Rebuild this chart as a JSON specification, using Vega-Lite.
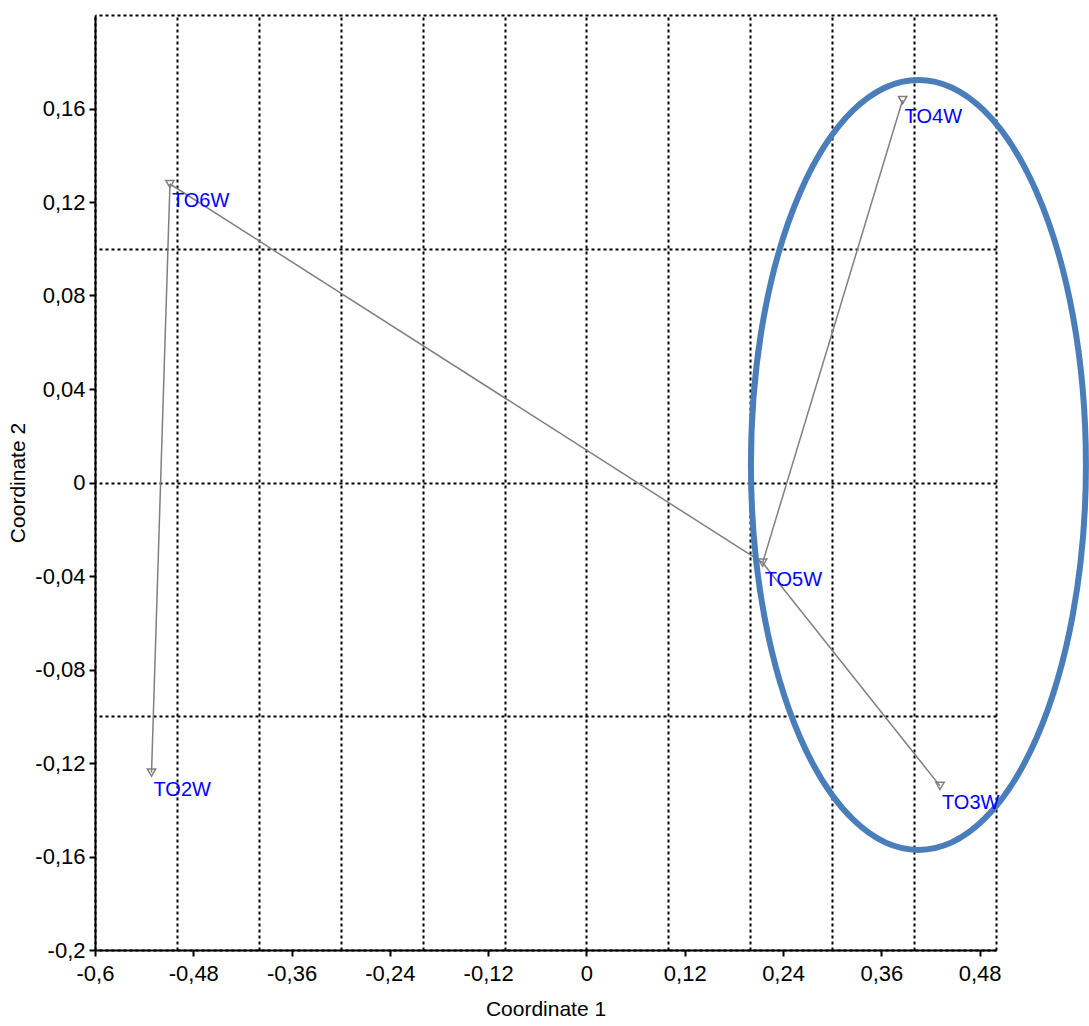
{
  "$schema": "https://vega.github.io/schema/vega-lite/v6.json",
  "autosize": {"type": "none"},
  "width": 901,
  "height": 935,
  "padding": {"left": 95, "top": 15, "right": 93, "bottom": 76},
  "background": "white",
  "config": {
    "view": {"stroke": null},
    "font": "Liberation Sans",
    "axis": {"labelFont": "Liberation Sans", "titleFont": "Liberation Sans"}
  },
  "datasets": {
    "points": [
      {"label": "TO2W", "c1": -0.531, "c2": -0.1241},
      {"label": "TO3W", "c1": 0.4316, "c2": -0.1298},
      {"label": "TO4W", "c1": 0.386, "c2": 0.1636},
      {"label": "TO5W", "c1": 0.2151, "c2": -0.0343},
      {"label": "TO6W", "c1": -0.5085, "c2": 0.1277}
    ],
    "edges": [
      {"from": "TO2W", "to": "TO6W", "x1": -0.531, "y1": -0.1241, "x2": -0.5085, "y2": 0.1277},
      {"from": "TO6W", "to": "TO5W", "x1": -0.5085, "y1": 0.1277, "x2": 0.2151, "y2": -0.0343},
      {"from": "TO5W", "to": "TO4W", "x1": 0.2151, "y1": -0.0343, "x2": 0.386, "y2": 0.1636},
      {"from": "TO5W", "to": "TO3W", "x1": 0.2151, "y1": -0.0343, "x2": 0.4316, "y2": -0.1298}
    ],
    "ellipse": [
      {"name": "group", "cx": 0.4053, "cy": 0.0075}
    ]
  },
  "resolve": {"axis": {"x": "independent", "y": "independent"}},
  "layer": [
    {
      "data": {"name": "edges"},
      "mark": {"type": "rule", "color": "#808080", "strokeWidth": 1.5},
      "encoding": {
        "x": {"field": "x1", "type": "quantitative",
          "scale": {"domain": [-0.6, 0.5], "nice": false, "zero": false},
          "axis": {"orient": "top", "values": [-0.6, -0.5, -0.4, -0.3, -0.2, -0.1, 0, 0.1, 0.2, 0.3, 0.4, 0.5],
            "grid": true, "gridColor": "black", "gridDash": [3, 3], "gridWidth": 2, "gridOpacity": 1,
            "domain": false, "ticks": false, "labels": false, "title": null}},
        "y": {"field": "y1", "type": "quantitative",
          "scale": {"domain": [-0.2, 0.2], "nice": false, "zero": false},
          "axis": {"orient": "right", "values": [-0.2, -0.1, 0, 0.1, 0.2],
            "grid": true, "gridColor": "black", "gridDash": [3, 3], "gridWidth": 2, "gridOpacity": 1,
            "domain": false, "ticks": false, "labels": false, "title": null}},
        "x2": {"field": "x2"},
        "y2": {"field": "y2"}
      }
    },
    {
      "data": {"name": "ellipse"},
      "mark": {"type": "point", "shape": "M1,0C1,1.2695,0.5523,2.2985,0,2.2985C-0.5523,2.2985,-1,1.2695,-1,0C-1,-1.2695,-0.5523,-2.2985,0,-2.2985C0.5523,-2.2985,1,-1.2695,1,0Z",
        "size": 112225, "filled": false, "stroke": "#4a7ebb", "strokeWidth": 6, "opacity": 1},
      "encoding": {
        "x": {"field": "cx", "type": "quantitative",
          "scale": {"domain": [-0.6, 0.5], "nice": false, "zero": false},
          "axis": {"orient": "bottom", "values": [-0.6, -0.48, -0.36, -0.24, -0.12, 0, 0.12, 0.24, 0.36, 0.48],
            "labelExpr": "replace(replace(format(datum.value, '.2~f'), '.', ','), '\u2212', '-')",
            "grid": false, "domainColor": "black", "domainWidth": 2, "tickColor": "black", "tickWidth": 2, "tickSize": 6,
            "labelColor": "black", "labelFontSize": 22, "labelPadding": 7, "labelFlush": false,
            "title": "Coordinate 1", "titleColor": "black", "titleFontSize": 21, "titleFontWeight": "normal", "titlePadding": 14}},
        "y": {"field": "cy", "type": "quantitative",
          "scale": {"domain": [-0.2, 0.2], "nice": false, "zero": false},
          "axis": {"orient": "left", "values": [-0.2, -0.16, -0.12, -0.08, -0.04, 0, 0.04, 0.08, 0.12, 0.16],
            "labelExpr": "replace(replace(format(datum.value, '.2~f'), '.', ','), '\u2212', '-')",
            "grid": false, "domainColor": "black", "domainWidth": 2, "tickColor": "black", "tickWidth": 2, "tickSize": 6,
            "labelColor": "black", "labelFontSize": 22, "labelPadding": 4, "labelFlush": false,
            "title": "Coordinate 2", "titleColor": "black", "titleFontSize": 21, "titleFontWeight": "normal", "titlePadding": 6}}
      }
    },
    {
      "data": {"name": "points"},
      "mark": {"type": "point", "shape": "triangle-down", "size": 70, "filled": false, "stroke": "#808080", "strokeWidth": 1.5, "opacity": 1},
      "encoding": {
        "x": {"field": "c1", "type": "quantitative", "scale": {"domain": [-0.6, 0.5], "nice": false, "zero": false}, "axis": null},
        "y": {"field": "c2", "type": "quantitative", "scale": {"domain": [-0.2, 0.2], "nice": false, "zero": false}, "axis": null}
      }
    },
    {
      "data": {"name": "points"},
      "mark": {"type": "text", "align": "left", "baseline": "alphabetic", "dx": 2, "dy": 23, "fontSize": 20, "font": "Liberation Sans", "color": "#0000ff"},
      "encoding": {
        "x": {"field": "c1", "type": "quantitative", "scale": {"domain": [-0.6, 0.5], "nice": false, "zero": false}, "axis": null},
        "y": {"field": "c2", "type": "quantitative", "scale": {"domain": [-0.2, 0.2], "nice": false, "zero": false}, "axis": null},
        "text": {"field": "label"}
      }
    }
  ]
}
